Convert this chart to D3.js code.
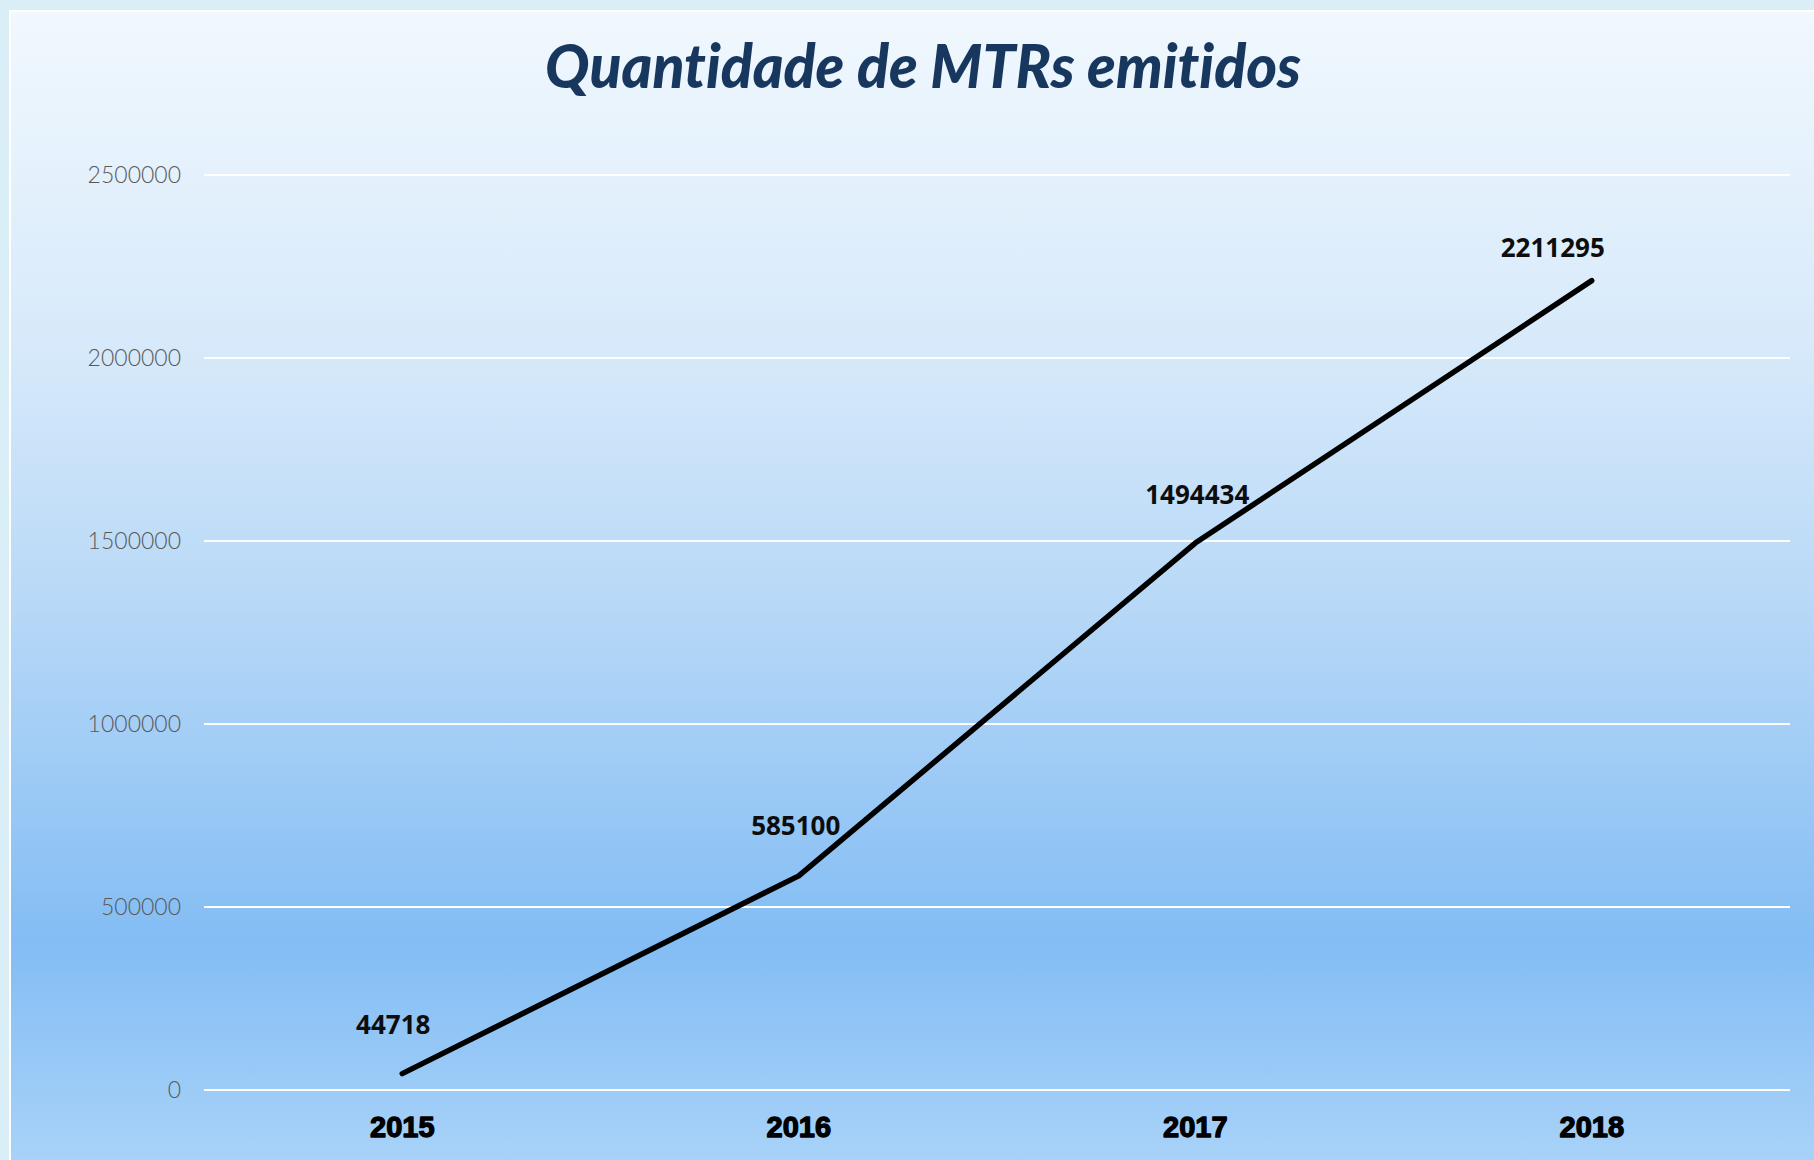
<!DOCTYPE html>
<html>
<head>
<meta charset="utf-8">
<script src="https://cdn.jsdelivr.net/npm/d3@7"></script>
<style>
  html, body { margin: 0; padding: 0; background: #DAEEF7; }
  svg { display: block; }
  text { font-variant-ligatures: none; font-feature-settings: "liga" 0, "clig" 0; }
</style>
</head>
<body>
<script>
const categories = ["2015", "2016", "2017", "2018"];
const values = [44718, 585100, 1494434, 2211295];
const yTicks = [0, 500000, 1000000, 1500000, 2000000, 2500000];
const title = "Quantidade de MTRs emitidos";

const W = 1814, H = 1160;
const margin = { left: 204, right: 24, top: 175, bottom: 70 };
// label nudges (layout only): [dx, dy]
const labelNudge = [[-9, -40], [-3, -41], [2, -39], [-39, -24]];

const svg = d3.select("body").append("svg").attr("width", W).attr("height", H);
const defs = svg.append("defs");
const grad = defs.append("linearGradient").attr("id", "bg").attr("x1", 0).attr("y1", 0).attr("x2", 0).attr("y2", 1);
[[0, "#F1F8FE"], [0.3, "#D6E9FA"], [0.52, "#B7D8F7"], [0.81, "#83BDF4"], [1, "#A8D2F8"]]
  .forEach(([o, c]) => grad.append("stop").attr("offset", o).attr("stop-color", c));

svg.append("rect").attr("x", 0).attr("y", 0).attr("width", W).attr("height", H).attr("fill", "#DAEEF7");
svg.append("rect").attr("x", 10).attr("y", 11).attr("width", W - 10).attr("height", H - 11).attr("fill", "url(#bg)");
svg.append("path").attr("d", `M10,${H} V11 H${W}`).attr("fill", "none").attr("stroke", "#FFFFFF").attr("stroke-width", 2);

const x = d3.scaleBand().domain(categories).range([margin.left, W - margin.right]).padding(0);
const y = d3.scaleLinear().domain([0, 2500000]).range([1090, margin.top]);

// gridlines + y axis
const yAxis = d3.axisLeft(y).tickValues(yTicks).tickSize(0).tickPadding(23).tickFormat(d3.format("d"));
const gy = svg.append("g").attr("transform", `translate(${margin.left},0)`).call(yAxis);
gy.select(".domain").remove();
gy.selectAll("text").attr("font-family", "Lato, 'Open Sans', sans-serif").attr("font-weight", 300)
  .attr("font-size", 23).attr("fill", "#595959");

svg.append("g").selectAll("line").data(yTicks).join("line")
  .attr("x1", margin.left).attr("x2", W - margin.right)
  .attr("y1", d => y(d)).attr("y2", d => y(d))
  .attr("stroke", "#FFFFFF").attr("stroke-width", 2.2);

// x axis
const xAxis = d3.axisBottom(x).tickSize(0).tickPadding(0);
const gx = svg.append("g").attr("transform", `translate(0,${y(0)})`).call(xAxis);
gx.select(".domain").remove();
gx.selectAll("text").attr("dy", null).attr("y", 47)
  .attr("font-family", "'Liberation Sans', Arial, sans-serif").attr("font-weight", 700)
  .attr("font-size", 29).attr("fill", "#000000").attr("stroke", "#000").attr("stroke-width", 1.3)
  .attr("stroke-linejoin", "round");

// line
const cx = d => x(d) + x.bandwidth() / 2;
const line = d3.line().x((d, i) => cx(categories[i])).y(d => y(d));
svg.append("path").datum(values).attr("d", line)
  .attr("fill", "none").attr("stroke", "#000000").attr("stroke-width", 5.5)
  .attr("stroke-linecap", "round").attr("stroke-linejoin", "round");

// data labels
svg.append("g").selectAll("text").data(values).join("text")
  .attr("x", (d, i) => cx(categories[i]) + labelNudge[i][0])
  .attr("y", (d, i) => y(d) + labelNudge[i][1])
  .attr("text-anchor", "middle")
  .attr("font-family", "'Open Sans', sans-serif").attr("font-weight", 700)
  .attr("font-size", 26).attr("fill", "#0D0D0D")
  .text(d => d);

// title
svg.append("text").attr("x", 923).attr("y", 88).attr("text-anchor", "middle")
  .attr("font-family", "Lato, 'Open Sans', sans-serif").attr("font-weight", 900).attr("font-style", "italic")
  .attr("font-size", 60).attr("fill", "#17375E")
  .attr("textLength", 756).attr("lengthAdjust", "spacingAndGlyphs")
  .text(title);
</script>
</body>
</html>
